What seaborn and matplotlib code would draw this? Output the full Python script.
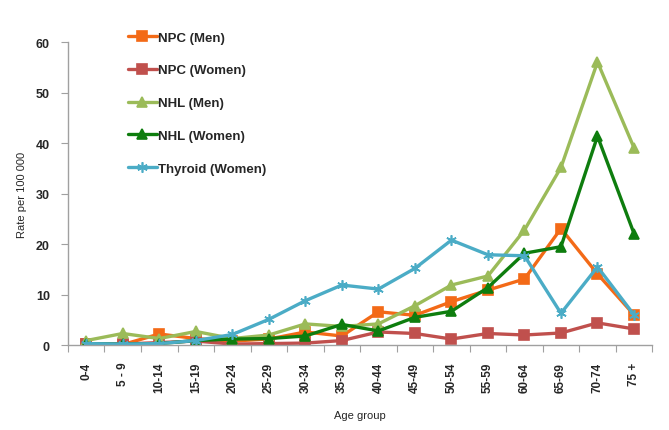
import numpy as np
import pandas as pd
import matplotlib
matplotlib.use("Agg")
import matplotlib.pyplot as plt
import seaborn as sns
from matplotlib.lines import Line2D

age_groups = ["0-4", "5 - 9", "10-14", "15-19", "20-24", "25-29", "30-34", "35-39",
              "40-44", "45-49", "50-54", "55-59", "60-64", "65-69", "70-74", "75 +"]
npc_men = [0.3, 0.1, 2.2, 1.3, 0.8, 1.2, 2.6, 1.8, 6.6, 5.9, 8.6, 10.9, 13.1, 23.1, 14.1, 6.0]
npc_women = [0.2, 0.2, 0.5, 0.8, 0.2, 0.3, 0.4, 0.9, 2.6, 2.3, 1.2, 2.3, 2.0, 2.4, 4.4, 3.2]
nhl_men = [0.9, 2.3, 1.3, 2.7, 1.3, 2.0, 4.2, 3.7, 4.2, 7.8, 11.9, 13.7, 22.8, 35.2, 56.1, 39.1]
nhl_women = [0.3, 0.2, 0.3, 0.9, 1.2, 1.3, 1.8, 4.1, 2.8, 5.5, 6.7, 11.4, 18.2, 19.5, 41.4, 22.1]
thyroid_women = [0.3, 0.2, 0.3, 0.9, 2.1, 5.1, 8.8, 11.9, 11.1, 15.2, 20.8, 17.9, 17.7, 6.3, 15.5, 6.0]

series_names = ["NPC (Men)", "NPC (Women)", "NHL (Men)", "NHL (Women)", "Thyroid (Women)"]
series_values = [npc_men, npc_women, nhl_men, nhl_women, thyroid_women]
colors = ["#F36A17", "#C0504D", "#9BBB59", "#0E7D0E", "#4BACC6"]
markers = ["s", "s", "^", "^", (6, 2, 0)]

sns.set_style("white")
plt.rcParams['font.family'] = ['Liberation Sans', 'DejaVu Sans']

fig = plt.figure(figsize=(6.69, 4.31), dpi=100)
ax = fig.add_axes([0.1016, 0.197, 0.8734, 0.7025])

for name, vals, c, m in zip(series_names, series_values, colors, markers):
    d = pd.DataFrame({"pos": np.arange(len(age_groups)), "rate": vals})
    sns.lineplot(data=d, x="pos", y="rate", color=c, marker=m, linewidth=2.4,
                 markersize=7.5, markeredgewidth=1.2, markeredgecolor=c,
                 markerfacecolor=c, ax=ax, label=name)
if ax.get_legend() is not None:
    ax.get_legend().remove()

ax.set_xlim(-0.5, 15.5)
ax.set_ylim(0, 60)
ax.set_yticks(np.arange(0, 61, 10))
ax.set_yticklabels([str(v) for v in range(0, 61, 10)], fontsize=9, fontweight="bold")
ax.set_xticks(np.arange(-0.5, 16, 1))
ax.set_xticklabels([])
ax.set_xticks(np.arange(16), minor=True)
ax.set_xticklabels(age_groups, minor=True, rotation=90, fontsize=8.5, fontweight="bold")
ax.tick_params(axis="x", which="minor", length=0, pad=12)
ax.tick_params(axis="x", which="major", length=5, color="#A0A0A0", direction="out", bottom=True)
ax.tick_params(axis="y", length=5, color="#A0A0A0", direction="out", left=True, pad=8)

for s in ["top", "right"]:
    ax.spines[s].set_visible(False)
for s in ["left", "bottom"]:
    ax.spines[s].set_color("#A0A0A0")
    ax.spines[s].set_linewidth(1.0)

ax.set_xlabel("Age group", fontsize=8)
ax.set_ylabel("Rate per 100 000", fontsize=8)
ax.xaxis.set_label_coords(0.5, -0.215)
ax.yaxis.set_label_coords(-0.07, 0.5)

handles = [Line2D([0], [0], color=c, marker=m, linewidth=2.4, markersize=7.5,
                  markeredgecolor=c, markerfacecolor=c, markeredgewidth=1.2)
           for c, m in zip(colors, markers)]
leg = fig.legend(handles, series_names, loc="upper left", bbox_to_anchor=(0.173, 0.952),
                 frameon=False, prop={"size": 9.5, "weight": "bold"},
                 handlelength=2.2, handletextpad=0.1, labelspacing=1.55)

fig.savefig("out.png", dpi=100)
